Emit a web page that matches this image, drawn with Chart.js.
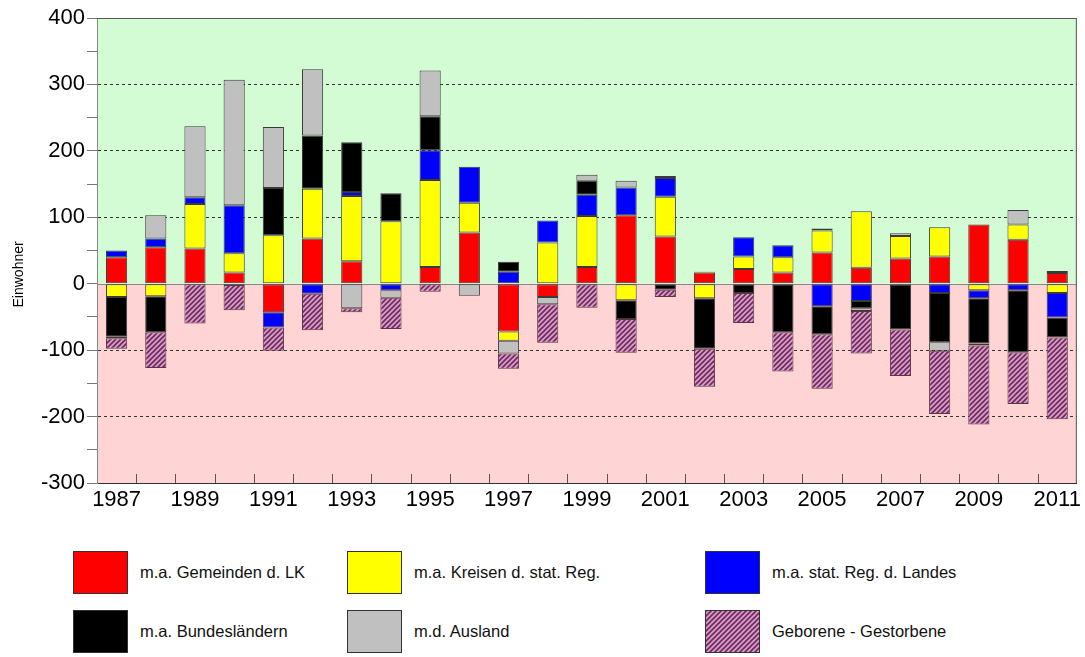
<!DOCTYPE html>
<html>
<head>
<meta charset="utf-8">
<script src="https://cdn.jsdelivr.net/npm/chart.js@4/dist/chart.umd.min.js"></script>
<style>
  body { margin: 0; background: #fff; font-family: "Liberation Sans", Arial, sans-serif; }
  #wrap { position: relative; width: 1085px; height: 657px; }
  #legend .item { position: absolute; display: flex; align-items: center; font-size: 16.5px; color: #111; }
  #legend .box { width: 55px; height: 43px; box-sizing: border-box; border: 1px solid #333; margin-right: 12px; }
</style>
</head>
<body>
<div id="wrap">
  <canvas id="migration-chart" width="1085" height="520"></canvas>
  <div id="legend"></div>
</div>
<script>
const years = ['1987','1988','1989','1990','1991','1992','1993','1994','1995','1996','1997','1998','1999',
  '2000','2001','2002','2003','2004','2005','2006','2007','2008','2009','2010','2011'];

// Wanderungssaldo nach Herkunft/Ziel
const gemeindenLK   = [40, 55, 53, 17, -43, 68, 34, 0, 25, 77, -72, -20, 25, 103, 71, 17, 22, 17, 47, 24, 38, 41, 89, 66, 16];
const kreisenReg    = [-20, -19, 67, 29, 73, 75, 98, 94, 131, 45, -14, 62, 77, -25, 60, -22, 19, 23, 33, 85, 34, 44, -10, 23, -14];
const regLandes     = [10, 13, 10, 72, -23, -15, 6, -10, 45, 54, 18, 33, 32, 42, 28, 0, 29, 18, -34, -26, -2, -14, -12, -10, -37];
const bundeslaender = [-60, -54, 0, -2, 71, 80, 75, 42, 51, 0, 15, 0, 21, -28, -9, -76, -14, -73, -42, -11, -67, -74, -68, -93, -30];
const ausland       = [-2, 35, 107, 189, 92, 100, -37, -11, 69, -18, -19, -11, 9, 10, 3, 1, 0, 0, 3, -4, 4, -13, -3, 22, 3];
const geburtenSaldo = [-16, -54, -60, -38, -35, -55, -6, -47, -12, 0, -23, -58, -36, -51, -11, -57, -45, -59, -82, -64, -70, -95, -119, -78, -123];

const seriesLabels = ['m.a. Gemeinden d. LK', 'm.a. Kreisen d. stat. Reg.', 'm.a. stat. Reg. d. Landes',
  'm.a. Bundesländern', 'm.d. Ausland', 'Geborene - Gestorbene'];
const yTitle = 'Einwohner';

const FONT = '"Liberation Sans", Arial, sans-serif';

// hatch pattern for Geborene - Gestorbene
const makeHatch = () => {
  const s = 5;
  const c = document.createElement('canvas');
  c.width = s; c.height = s;
  const g = c.getContext('2d');
  g.fillStyle = '#bca6da';
  g.fillRect(0, 0, s, s);
  g.strokeStyle = '#8c1f48';
  g.lineWidth = 1.6;
  g.beginPath();
  g.moveTo(0, s); g.lineTo(s, 0);
  g.moveTo(-1, 1); g.lineTo(1, -1);
  g.moveTo(s - 1, s + 1); g.lineTo(s + 1, s - 1);
  g.stroke();
  return c;
};
const hatchCanvas = makeHatch();
const hatch = document.createElement('canvas').getContext('2d').createPattern(hatchCanvas, 'repeat');

const clean = (arr) => arr.map(v => v === 0 ? null : v);

const mkSet = (label, data, color, border) => ({
  label: label,
  data: clean(data),
  backgroundColor: color,
  borderColor: border || '#3a3a3a',
  borderWidth: 1,
  borderSkipped: false,
  stack: 's'
});

const bgPlugin = {
  id: 'bgPlugin',
  beforeDraw(chart) {
    const { ctx, chartArea: a, scales: { y } } = chart;
    const y0 = y.getPixelForValue(0);
    ctx.save();
    ctx.fillStyle = '#d4fcd4';
    ctx.fillRect(a.left, a.top, a.right - a.left, y0 - a.top);
    ctx.fillStyle = '#ffd4d4';
    ctx.fillRect(a.left, y0, a.right - a.left, a.bottom - y0);
    ctx.restore();
  },
  beforeDatasetsDraw(chart) {
    const { ctx, chartArea: a, scales: { y } } = chart;
    const y0 = Math.round(y.getPixelForValue(0)) + 0.5;
    ctx.save();
    ctx.strokeStyle = '#888';
    ctx.lineWidth = 1;
    ctx.beginPath();
    ctx.moveTo(a.left, y0); ctx.lineTo(a.right, y0);
    ctx.stroke();
    ctx.restore();
  },
  afterDraw(chart) {
    const { ctx, chartArea: a, scales: { x, y } } = chart;
    ctx.save();
    ctx.strokeStyle = '#333';
    ctx.lineWidth = 1;
    ctx.beginPath();
    ctx.moveTo(a.left, a.top + 0.5); ctx.lineTo(a.right, a.top + 0.5);
    ctx.moveTo(a.right - 0.5, a.top); ctx.lineTo(a.right - 0.5, a.bottom);
    // x tick marks between categories, pointing inward
    ctx.strokeStyle = '#555';
    for (let i = 0; i < years.length - 1; i++) {
      const xp = Math.round((x.getPixelForValue(i) + x.getPixelForValue(i + 1)) / 2) + 0.5;
      ctx.moveTo(xp, a.bottom); ctx.lineTo(xp, a.bottom - 9);
    }
    ctx.stroke();
    // y axis title, slightly above the zero line like the original
    ctx.translate(23, y.getPixelForValue(14));
    ctx.rotate(-Math.PI / 2);
    ctx.fillStyle = '#000';
    ctx.font = '14px ' + FONT;
    ctx.textAlign = 'center';
    ctx.textBaseline = 'alphabetic';
    ctx.fillText(yTitle, 0, 0);
    ctx.restore();
  }
};

const ctx = document.getElementById('migration-chart').getContext('2d');
const myChart = new Chart(ctx, {
  type: 'bar',
  data: {
    labels: years,
    datasets: [
      mkSet(seriesLabels[0], gemeindenLK, '#ff0000'),
      mkSet(seriesLabels[1], kreisenReg, '#ffff00'),
      mkSet(seriesLabels[2], regLandes, '#0000ff'),
      mkSet(seriesLabels[3], bundeslaender, '#000000'),
      mkSet(seriesLabels[4], ausland, '#c0c0c0'),
      mkSet(seriesLabels[5], geburtenSaldo, hatch, '#5a3446')
    ]
  },
  options: {
    responsive: false,
    animation: false,
    categoryPercentage: 1,
    barPercentage: 0.54,
    layout: { padding: { top: 18, right: 5, left: 0, bottom: 0 } },
    plugins: {
      legend: { display: false },
      tooltip: { enabled: false }
    },
    scales: {
      x: {
        stacked: true,
        afterFit: (scale) => { scale.height = 37; },
        grid: { drawOnChartArea: false, drawTicks: false },
        border: { color: '#333', width: 1 },
        ticks: {
          autoSkip: false,
          maxRotation: 0,
          padding: 4,
          color: '#000',
          font: { family: FONT, size: 22 },
          callback: function (val, index) { return index % 2 === 0 ? this.getLabelForValue(val) : ''; }
        }
      },
      y: {
        stacked: true,
        min: -300,
        max: 400,
        afterFit: (scale) => { scale.width = 97; },
        grid: {
          color: (c) => {
            const v = c.tick ? c.tick.value : null;
            if (v === null || v % 100 !== 0 || v === 0 || v === 400 || v === -300) return 'rgba(0,0,0,0)';
            return '#333';
          },
          tickColor: '#777',
          tickLength: 10,
          lineWidth: 1
        },
        border: { color: '#888', width: 1, dash: [3, 3] },
        ticks: {
          stepSize: 50,
          padding: 2,
          color: '#000',
          font: { family: FONT, size: 22 },
          callback: (v) => v % 100 === 0 ? v : ''
        }
      }
    }
  },
  plugins: [bgPlugin]
});

// legend in three columns, two rows
const legendCols = [73, 347, 705];
const legendRows = [551, 610];
const legendEl = document.getElementById('legend');
myChart.data.datasets.forEach((ds, k) => {
  const item = document.createElement('div');
  item.className = 'item';
  item.style.left = legendCols[k % 3] + 'px';
  item.style.top = legendRows[Math.floor(k / 3)] + 'px';
  const box = document.createElement('div');
  box.className = 'box';
  if (typeof ds.backgroundColor === 'string') {
    box.style.background = ds.backgroundColor;
  } else {
    box.style.backgroundImage = 'url(' + hatchCanvas.toDataURL() + ')';
  }
  const txt = document.createElement('span');
  txt.textContent = ds.label;
  item.appendChild(box);
  item.appendChild(txt);
  legendEl.appendChild(item);
});
</script>
</body>
</html>
